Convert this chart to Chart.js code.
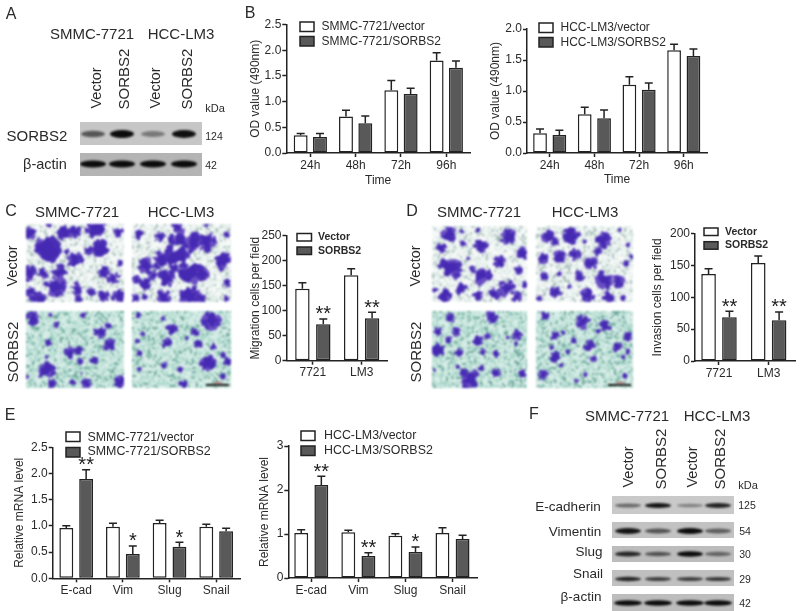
<!DOCTYPE html>
<html>
<head>
<meta charset="utf-8">
<title>SORBS2 figure</title>
<script src="https://cdn.jsdelivr.net/npm/chart.js@4"></script>
<style>
  html, body { margin: 0; padding: 0; background: #fff; }
  #figure { position: relative; width: 800px; height: 611px; overflow: hidden; filter: blur(0.35px); }
  #figure canvas { position: absolute; }
  .lbl { position: absolute; white-space: nowrap; color: #2a2a2a; font-family: "Liberation Sans", Arial, sans-serif; transform: translate(-50%, -50%); line-height: 1; }
  .lbl.rot { transform: translate(-50%, -50%) rotate(-90deg); }
</style>
</head>
<body>
<div id="figure"><canvas id="photos" width="800" height="611" style="left:0;top:0"></canvas></div>
<script>
// categories
const timeLabels = ['24h', '48h', '72h', '96h'];
const cellLabels = ['7721', 'LM3'];
const geneLabels = ['E-cad', 'Vim', 'Slug', 'Snail'];

// panel B, OD values
const odSmmcVector = [0.345, 0.71, 1.22, 1.80];
const odSmmcVectorErr = [0.035, 0.12, 0.19, 0.15];
const odSmmcSorbs = [0.31, 0.58, 1.15, 1.66];
const odSmmcSorbsErr = [0.07, 0.14, 0.11, 0.13];
const odLm3Vector = [0.317, 0.624, 1.10, 1.656];
const odLm3VectorErr = [0.07, 0.113, 0.13, 0.097];
const odLm3Sorbs = [0.29, 0.56, 1.02, 1.565];
const odLm3SorbsErr = [0.075, 0.134, 0.11, 0.112];

// panel C and D, cells per field
const migrationVector = [144, 171];
const migrationVectorErr = [12, 13];
const migrationSorbs = [73, 85];
const migrationSorbsErr = [10.5, 12];
const migrationStars = ['**', '**'];
const invasionVector = [136.6, 154];
const invasionVectorErr = [8.4, 11];
const invasionSorbs = [68.6, 64];
const invasionSorbsErr = [9.4, 13];
const invasionStars = ['**', '**'];

// panel E, relative mRNA
const mrnaSmmcVector = [0.96, 0.986, 1.056, 0.986];
const mrnaSmmcVectorErr = [0.045, 0.064, 0.051, 0.044];
const mrnaSmmcSorbs = [1.896, 0.464, 0.604, 0.897];
const mrnaSmmcSorbsErr = [0.174, 0.153, 0.083, 0.057];
const mrnaSmmcStars = ['**', '*', '*', ''];
const mrnaLm3Vector = [1.023, 1.038, 0.962, 1.023];
const mrnaLm3VectorErr = [0.075, 0.045, 0.046, 0.121];
const mrnaLm3Sorbs = [2.114, 0.50, 0.59, 0.886];
const mrnaLm3SorbsErr = [0.196, 0.076, 0.115, 0.084];
const mrnaLm3Stars = ['**', '**', '*', ''];

// western blot band strengths (lanes left to right)
const sorbs2Bands = [0.6, 1, 0.42, 0.98];
const actinBands = [1, 1, 1, 1];
const ecadBands = [0.5, 0.95, 0.38, 0.88];
const vimBands = [0.95, 0.6, 1, 0.55];
const slugBands = [0.85, 0.6, 1, 0.5];
const snailBands = [0.85, 0.72, 0.72, 0.75];
const actinBandsF = [1, 1, 1, 1];

const FONT = '"Liberation Sans", Arial, sans-serif';
const INK = '#222';
const DARK = '#595959';
const figure = document.getElementById('figure');

// plain text labels: text, centre x, centre y, size, rotated, bold
const labels = [
  ['A', 11, 14, 16], ['B', 250, 13, 16], ['C', 11, 211, 16], ['D', 412, 211, 16], ['E', 10, 415, 16], ['F', 534, 414, 16],
  ['SMMC-7721', 92, 33, 15], ['HCC-LM3', 181, 33, 15],
  ['Vector', 96, 88, 14.5, 1], ['SORBS2', 123, 79, 15, 1], ['Vector', 155, 88, 14.5, 1], ['SORBS2', 186, 79, 15, 1],
  ['kDa', 215, 108, 11], ['SORBS2', 37, 135, 15], ['β-actin', 45, 164, 14.5], ['124', 214, 136, 10.5], ['42', 211, 165, 10.5],
  ['SMMC-7721', 77, 211, 15], ['HCC-LM3', 181, 211, 15], ['Vector', 12, 266, 14.5, 1], ['SORBS2', 12, 352, 15, 1],
  ['SMMC-7721', 479, 211, 15], ['HCC-LM3', 585, 211, 15], ['Vector', 415, 266, 14.5, 1], ['SORBS2', 415, 352, 15, 1],
  ['SMMC-7721', 627, 415, 15], ['HCC-LM3', 717, 415, 15],
  ['Vector', 628, 467, 14.5, 1], ['SORBS2', 660, 459, 15, 1], ['Vector', 692, 467, 14.5, 1], ['SORBS2', 719, 459, 15, 1],
  ['kDa', 748, 485, 11],
  ['E-cadherin', 568, 507, 13.5], ['Vimentin', 575, 532, 13.5], ['Slug', 589, 552, 13.5], ['Snail', 588, 574, 13.5], ['β-actin', 581, 597, 13.5],
  ['125', 747, 505, 10.5], ['54', 745, 531, 10.5], ['30', 745, 554, 10.5], ['29', 745, 579, 10.5], ['42', 745, 603, 10.5]
];

labels.forEach(function (l) {
  const d = document.createElement('div');
  d.className = 'lbl' + (l[4] ? ' rot' : '');
  d.textContent = l[0];
  d.style.left = l[1] + 'px';
  d.style.top = l[2] + 'px';
  d.style.fontSize = l[3] + 'px';
  figure.appendChild(d);
});

// ---- photo panels, only decoration under the charts ----
const photoCtx = document.getElementById('photos').getContext('2d');
let seed = 4711;
function rnd() {
  seed = (seed * 16807) % 2147483647;
  return seed / 2147483647;
}

const tintVector = [[246, 249, 248], [220, 233, 229], [168, 190, 186]];
const tintSorbs = [[214, 236, 230], [172, 215, 203], [112, 168, 156]];

// blob spots: x, y, r in crop pixels (3x)
const spotsC11 = [[30,40,14],[85,90,30],[60,85,14],[140,40,20],[165,35,14],[130,30,10],[230,25,22],[295,35,12],[205,90,10],[240,90,22],[165,120,18],[140,95,8],[25,160,18],[30,215,12],[70,160,12],[120,160,20],[105,200,24],[60,235,14],[170,205,14],[175,235,10],[250,155,14],[280,175,14],[215,215,10],[250,230,14],[295,230,16],[300,130,8],[85,15,8],[200,30,8],[40,235,10]];
const spotsC12 = [[355,45,12],[420,50,12],[480,60,24],[520,70,24],[470,110,28],[420,120,20],[380,140,18],[560,65,22],[620,45,8],[610,125,20],[510,160,30],[550,160,16],[440,175,20],[400,165,12],[350,180,10],[375,190,14],[345,235,10],[430,230,16],[510,230,24],[545,235,10],[620,190,10],[620,235,8],[470,20,12],[560,15,6],[375,230,8],[460,145,12]];
const spotsC21 = [[38,295,16],[110,315,8],[92,285,6],[190,285,8],[240,335,14],[268,375,14],[265,318,8],[150,398,14],[175,392,10],[85,368,8],[80,410,6],[78,450,20],[95,490,10],[158,488,8],[200,492,12],[300,485,14],[220,420,10],[180,425,8],[22,470,5],[185,460,3]];
const spotsC22 = [[355,285,8],[575,300,22],[455,330,14],[440,370,12],[525,335,10],[535,372,10],[370,342,6],[352,363,6],[358,400,7],[430,295,6],[580,380,9],[565,430,18],[610,405,8],[622,425,10],[432,437,9],[480,450,7],[358,448,6],[490,492,10],[610,470,8],[500,355,5]];
const spotsD11 = [[60,45,18],[40,85,12],[105,70,8],[160,75,16],[150,30,6],[240,50,18],[285,100,14],[215,125,14],[65,145,26],[160,165,22],[130,145,8],[270,150,10],[290,195,8],[235,205,20],[200,220,14],[100,205,14],[50,225,16],[20,210,8],[150,225,12],[265,230,12],[100,35,6],[120,115,5]];
const spotsD12 = [[360,50,14],[380,65,10],[430,45,20],[525,60,18],[600,75,6],[345,115,12],[395,110,14],[440,105,14],[490,130,14],[510,95,10],[350,170,10],[395,160,8],[455,168,12],[530,180,20],[570,185,14],[595,130,8],[610,110,6],[385,215,14],[335,235,8],[425,200,6],[480,225,16],[540,230,14],[585,235,8],[470,65,6],[575,30,6]];
const spotsD21 = [[65,295,12],[190,290,14],[30,335,10],[85,335,10],[62,360,9],[30,390,14],[92,398,10],[150,360,12],[178,350,8],[268,345,12],[265,372,6],[240,352,5],[165,398,8],[205,403,9],[160,445,9],[205,458,11],[285,463,10],[105,455,8],[125,478,22],[90,440,6],[20,450,4]];
const spotsD22 = [[350,287,10],[465,305,16],[530,320,14],[600,350,10],[380,348,10],[405,338,6],[438,362,9],[485,378,14],[568,382,11],[372,382,6],[380,410,13],[420,395,6],[400,435,6],[498,415,9],[600,395,8],[585,410,6],[345,465,12],[472,463,6],[590,468,7],[445,482,5],[510,335,6]];

function drawSpot(c, x, y, r, color) {
  const n = 11;
  c.fillStyle = color;
  c.beginPath();
  for (let i = 0; i < n; i++) {
    const a = i / n * Math.PI * 2;
    const rr = r * (0.4 + 0.95 * rnd());
    if (i === 0) c.moveTo(x + Math.cos(a) * rr, y + Math.sin(a) * rr);
    else c.lineTo(x + Math.cos(a) * rr, y + Math.sin(a) * rr);
  }
  c.closePath();
  c.fill();
}

function drawMicrograph(x, y, w, h, tint, spots, ox, oy, scaleBar) {
  const off = document.createElement('canvas');
  off.width = w;
  off.height = h;
  const c = off.getContext('2d');
  for (let py = 0; py < h; py += 2) {
    for (let px = 0; px < w; px += 2) {
      const v = rnd();
      const col = v < 0.52 ? tint[0] : (v < 0.88 ? tint[1] : tint[2]);
      c.fillStyle = 'rgb(' + col.join(',') + ')';
      c.fillRect(px, py, 2, 2);
    }
  }
  spots.forEach(function (s) {
    const sx = ox + s[0] / 3 - x;
    const sy = oy + s[1] / 3 - y;
    const r = s[2] / 3;
    drawSpot(c, sx, sy, r * 1.25, '#6a4fc4');
    drawSpot(c, sx, sy, r * 1.05, '#4529b2');
    if (r > 3) {
      for (let i = 0; i < 5; i++) {
        const a = rnd() * Math.PI * 2;
        drawSpot(c, sx + Math.cos(a) * r * 1.1, sy + Math.sin(a) * r * 1.1, r * 0.4, '#4a2eb5');
      }
    }
  });
  if (scaleBar) {
    c.fillStyle = '#b04040';
    c.fillRect(w - 17, h - 6, 8, 1);
    c.fillStyle = '#111';
    c.fillRect(w - 25, h - 4, 23, 2);
  }
  photoCtx.save();
  photoCtx.filter = 'blur(0.9px)';
  photoCtx.drawImage(off, x, y);
  photoCtx.restore();
}

drawMicrograph(26, 224, 98, 78, tintVector, spotsC11, 20, 220);
drawMicrograph(132, 224, 99, 78, tintVector, spotsC12, 20, 220);
drawMicrograph(26, 311, 98, 77, tintSorbs, spotsC21, 20, 220);
drawMicrograph(132, 311, 99, 77, tintSorbs, spotsC22, 20, 220, true);
drawMicrograph(432, 226, 95, 76, tintVector, spotsD11, 428, 220);
drawMicrograph(536, 226, 97, 76, tintVector, spotsD12, 428, 220);
drawMicrograph(432, 311, 95, 77, tintSorbs, spotsD21, 428, 220);
drawMicrograph(536, 311, 97, 77, tintSorbs, spotsD22, 428, 220, true);

function drawBlot(x, y, w, h, bg, bandY, laneX, strengths, halfW, halfH) {
  photoCtx.fillStyle = bg;
  photoCtx.fillRect(x, y, w, h);
  photoCtx.save();
  photoCtx.beginPath();
  photoCtx.rect(x, y, w, h);
  photoCtx.clip();
  photoCtx.filter = 'blur(1.2px)';
  strengths.forEach(function (s, i) {
    photoCtx.fillStyle = 'rgba(12,12,12,' + s + ')';
    photoCtx.beginPath();
    photoCtx.ellipse(laneX[i], bandY, halfW, halfH * (0.55 + 0.45 * s), 0, 0, Math.PI * 2);
    photoCtx.fill();
  });
  photoCtx.restore();
}

const lanesA = [93, 122, 153, 184];
const lanesF = [628, 658, 690, 718];
drawBlot(80, 122, 122, 23, '#c6c6c6', 134, lanesA, sorbs2Bands, 12, 4);
drawBlot(80, 153, 122, 23, '#b4b4b4', 164, lanesA, actinBands, 13, 3.5);
drawBlot(612, 496, 122, 18, '#c9c9c9', 505.5, lanesF, ecadBands, 13, 2.6);
drawBlot(612, 522, 122, 16, '#c2c2c2', 531, lanesF, vimBands, 13, 3);
drawBlot(612, 546, 122, 16, '#bcbcbc', 554, lanesF, slugBands, 13, 2.8);
drawBlot(612, 570, 122, 16, '#c0c0c0', 579, lanesF, snailBands, 13, 2.3);
drawBlot(612, 594, 122, 17, '#bdbdbd', 603, lanesF, actinBandsF, 14, 2.8);

// ---- bar panels ----
// error bars and significance stars, Chart.js has no error bars of its own
const errorBarPlugin = {
  id: 'errorBars',
  afterDatasetsDraw: function (chart) {
    const ctx = chart.ctx;
    const y = chart.scales.y;
    chart.data.datasets.forEach(function (ds, i) {
      chart.getDatasetMeta(i).data.forEach(function (bar, j) {
        const v = ds.data[j].y;
        const top = y.getPixelForValue(v + ds.errors[j]);
        ctx.save();
        ctx.strokeStyle = INK;
        ctx.lineWidth = 1.5;
        ctx.beginPath();
        ctx.moveTo(bar.x, y.getPixelForValue(v));
        ctx.lineTo(bar.x, top);
        ctx.moveTo(bar.x - 4, top);
        ctx.lineTo(bar.x + 4, top);
        ctx.stroke();
        if (ds.stars && ds.stars[j]) {
          ctx.fillStyle = INK;
          ctx.font = '20px ' + FONT;
          ctx.textAlign = 'center';
          ctx.textBaseline = 'alphabetic';
          ctx.fillText(ds.stars[j], bar.x, top + 1.5);
        }
        ctx.restore();
      });
    });
  }
};

// legend sits over the axis top, where the built in legend cannot go
const panelLegendPlugin = {
  id: 'panelLegend',
  afterDraw: function (chart, args, opts) {
    const ctx = chart.ctx;
    chart.data.datasets.forEach(function (ds, i) {
      ctx.save();
      ctx.fillStyle = ds.backgroundColor;
      ctx.strokeStyle = INK;
      ctx.lineWidth = 1.5;
      ctx.fillRect(opts.boxX, opts.boxY[i], opts.boxW, opts.boxH);
      ctx.strokeRect(opts.boxX, opts.boxY[i], opts.boxW, opts.boxH);
      ctx.fillStyle = '#2a2a2a';
      ctx.font = opts.font + ' ' + FONT;
      ctx.textBaseline = 'middle';
      ctx.fillText(ds.label, opts.textX, opts.textY[i]);
      ctx.restore();
    });
  }
};

function makePanel(p) {
  const canvas = document.createElement('canvas');
  canvas.width = p.right - p.left;
  canvas.height = p.bottom - p.top;
  canvas.style.left = p.left + 'px';
  canvas.style.top = p.top + 'px';
  figure.appendChild(canvas);

  const toPoints = function (values) {
    return values.map(function (v, i) { return { x: i, y: v }; });
  };

  return new Chart(canvas.getContext('2d'), {
    type: 'bar',
    data: {
      datasets: [{
        label: p.names[0],
        data: toPoints(p.series[0]),
        errors: p.errors[0],
        backgroundColor: '#ffffff'
      }, {
        label: p.names[1],
        data: toPoints(p.series[1]),
        errors: p.errors[1],
        stars: p.stars,
        backgroundColor: DARK
      }]
    },
    plugins: [errorBarPlugin, panelLegendPlugin],
    options: {
      responsive: false,
      animation: false,
      layout: { padding: { top: p.axisTop - p.top, right: 2 } },
      datasets: {
        bar: {
          borderColor: INK,
          borderWidth: 1.5,
          borderSkipped: false,
          categoryPercentage: p.catPct,
          barPercentage: p.barPct
        }
      },
      plugins: {
        legend: { display: false },
        tooltip: { enabled: false },
        panelLegend: {
          boxX: p.legend.boxX - p.left,
          boxY: p.legend.boxY.map(function (v) { return v - p.top; }),
          boxW: p.legend.boxW,
          boxH: p.legend.boxH,
          textX: p.legend.textX - p.left,
          textY: p.legend.textY.map(function (v) { return v - p.top; }),
          font: p.legend.font
        }
      },
      scales: {
        x: {
          type: 'linear',
          offset: false,
          min: p.xMin,
          max: p.xMax,
          afterBuildTicks: function (scale) {
            scale.ticks = p.categories.map(function (c, i) { return { value: i }; });
          },
          afterFit: function (scale) { scale.height = p.bottom - p.axisBottom; },
          grid: { offset: false, drawOnChartArea: false, tickLength: 4, tickWidth: 1.5, tickColor: INK },
          border: { color: INK, width: 1.5 },
          ticks: {
            autoSkip: false,
            maxRotation: 0,
            padding: 1,
            color: '#2a2a2a',
            font: { family: FONT, size: 12 },
            callback: function (value) { return p.categories[value]; }
          },
          title: {
            display: !!p.xTitle,
            text: p.xTitle,
            color: '#2a2a2a',
            padding: 0,
            font: { family: FONT, size: 12 }
          }
        },
        y: {
          min: 0,
          max: p.yMax,
          afterFit: function (scale) { scale.width = p.axisLeft - p.left; },
          grid: { drawOnChartArea: false, tickLength: 4, tickWidth: 1.5, tickColor: INK },
          border: { color: INK, width: 1.5 },
          ticks: {
            stepSize: p.yStep,
            padding: 1,
            color: '#2a2a2a',
            font: { family: FONT, size: 12 },
            callback: function (value) { return value.toFixed(p.yDigits); }
          },
          title: {
            display: true,
            text: p.yTitle,
            color: '#2a2a2a',
            padding: 0,
            font: { family: FONT, size: 12 }
          }
        }
      }
    }
  });
}

makePanel({
  left: 248, right: 472, top: 12, bottom: 188,
  axisLeft: 286.3, axisTop: 24.5, axisBottom: 153,
  xMin: -0.53, xMax: 3.523, catPct: 0.853, barPct: 0.72,
  categories: timeLabels, yMax: 2.5, yStep: 0.5, yDigits: 1,
  names: ['SMMC-7721/vector', 'SMMC-7721/SORBS2'],
  series: [odSmmcVector, odSmmcSorbs], errors: [odSmmcVectorErr, odSmmcSorbsErr],
  yTitle: 'OD value (490nm)', xTitle: 'Time',
  legend: { boxX: 300, boxY: [22, 36.5], boxW: 14, boxH: 9.5, textX: 321.5, textY: [26.7, 41.3], font: '12px' }
});

makePanel({
  left: 488, right: 709, top: 15, bottom: 187,
  axisLeft: 527, axisTop: 29, axisBottom: 153,
  xMin: -0.508, xMax: 3.52, catPct: 0.866, barPct: 0.71,
  categories: timeLabels, yMax: 2, yStep: 0.5, yDigits: 1,
  names: ['HCC-LM3/vector', 'HCC-LM3/SORBS2'],
  series: [odLm3Vector, odLm3Sorbs], errors: [odLm3VectorErr, odLm3SorbsErr],
  yTitle: 'OD value (490nm)', xTitle: 'Time',
  legend: { boxX: 539, boxY: [23, 37.5], boxW: 14, boxH: 9.5, textX: 560.5, textY: [28, 42.3], font: '12px' }
});

makePanel({
  left: 248, right: 389, top: 224, bottom: 385,
  axisLeft: 286.5, axisTop: 235.7, axisBottom: 360.7,
  xMin: -0.54, xMax: 1.52, catPct: 0.857, barPct: 0.69,
  categories: cellLabels, yMax: 250, yStep: 50, yDigits: 0,
  names: ['Vector', 'SORBS2'],
  series: [migrationVector, migrationSorbs], errors: [migrationVectorErr, migrationSorbsErr], stars: migrationStars,
  yTitle: 'Migration cells per field',
  legend: { boxX: 297, boxY: [233.5, 247], boxW: 14.5, boxH: 7.5, textX: 318, textY: [237.3, 250.7], font: 'bold 10.5px' }
});

makePanel({
  left: 650, right: 797, top: 222, bottom: 385,
  axisLeft: 695, axisTop: 233.7, axisBottom: 361,
  xMin: -0.483, xMax: 1.53, catPct: 0.84, barPct: 0.70,
  categories: cellLabels, yMax: 200, yStep: 50, yDigits: 0,
  names: ['Vector', 'SORBS2'],
  series: [invasionVector, invasionSorbs], errors: [invasionVectorErr, invasionSorbsErr], stars: invasionStars,
  yTitle: 'Invasion cells per field',
  legend: { boxX: 704, boxY: [228, 241.7], boxW: 14, boxH: 7.5, textX: 725, textY: [231.7, 245], font: 'bold 10.5px' }
});

makePanel({
  left: 12, right: 242, top: 428, bottom: 605,
  axisLeft: 52.7, axisTop: 447.3, axisBottom: 578.3,
  xMin: -0.504, xMax: 3.51, catPct: 0.85, barPct: 0.70,
  categories: geneLabels, yMax: 2.5, yStep: 0.5, yDigits: 1,
  names: ['SMMC-7721/vector', 'SMMC-7721/SORBS2'],
  series: [mrnaSmmcVector, mrnaSmmcSorbs], errors: [mrnaSmmcVectorErr, mrnaSmmcSorbsErr], stars: mrnaSmmcStars,
  yTitle: 'Relative mRNA level',
  legend: { boxX: 66, boxY: [432, 447.5], boxW: 14, boxH: 9.5, textX: 87.5, textY: [437.3, 452], font: '12.4px' }
});

makePanel({
  left: 257, right: 479, top: 426, bottom: 605,
  axisLeft: 288.3, axisTop: 446, axisBottom: 578,
  xMin: -0.488, xMax: 3.52, catPct: 0.855, barPct: 0.69,
  categories: geneLabels, yMax: 3, yStep: 1, yDigits: 0,
  names: ['HCC-LM3/vector', 'HCC-LM3/SORBS2'],
  series: [mrnaLm3Vector, mrnaLm3Sorbs], errors: [mrnaLm3VectorErr, mrnaLm3SorbsErr], stars: mrnaLm3Stars,
  yTitle: 'Relative mRNA level',
  legend: { boxX: 301, boxY: [431, 446], boxW: 14, boxH: 9.5, textX: 324, textY: [435.7, 451], font: '12.4px' }
});
</script>
</body>
</html>
